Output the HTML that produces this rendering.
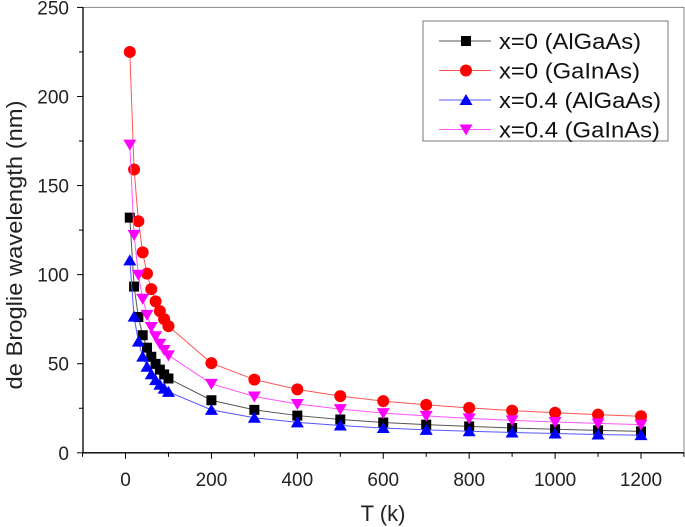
<!DOCTYPE html>
<html><head><meta charset="utf-8"><style>
body{margin:0;background:#fff}
svg{display:block;font-family:"Liberation Sans",sans-serif}
</style></head><body>
<svg id="chart" width="685" height="527"></svg>
<script>
const temps=[10,20,30,40,50,60,70,80,90,100,200,300,400,500,600,700,800,900,1000,1100,1200];
const gainas0=[225,159,130,112.5,100.6,91.9,85,79.5,75,71.1,50.3,41.1,35.6,31.8,29,26.9,25.2,23.7,22.5,21.4,20.5];
const algaas0=[132,93.3,76.2,66,59,53.9,49.9,46.7,44,41.7,29.5,24.1,20.9,18.7,17,15.8,14.8,13.9,13.2,12.6,12.0];
const algaas04=[108,76.4,62.4,54,48.3,44.1,40.8,38.2,36,34.2,24.1,19.7,17.1,15.3,13.9,12.9,12.1,11.4,10.8,10.3,9.9];
const gainas04=[173,122.3,99.9,86.5,77.4,70.6,65.4,61.2,57.7,54.7,38.7,31.6,27.4,24.5,22.3,20.7,19.3,18.2,17.3,16.5,15.8];
const xTicks=[0,200,400,600,800,1000,1200];
const yTicks=[0,50,100,150,200,250];
const seriesNames=["x=0 (AlGaAs)","x=0 (GaInAs)","x=0.4 (AlGaAs)","x=0.4 (GaInAs)"];

const svg=document.getElementById('chart');
const NS='http://www.w3.org/2000/svg';
const L=83,R=684,T=7.4,B=452.8;
const X=v=>125.5+(v/1200)*(641-125.5);
const Y=v=>B-(v/250)*(B-T);
function el(tag,attrs,parent){const e=document.createElementNS(NS,tag);for(const k in attrs)e.setAttribute(k,attrs[k]);(parent||svg).appendChild(e);return e;}

const frame=el('rect',{x:L,y:T,width:R-L,height:B-T,fill:'none',stroke:'#888','stroke-width':1});


const xAxis=el('line',{x1:L,y1:B,x2:R,y2:B,stroke:'#000','stroke-width':1.3});


const yAxis=el('line',{x1:L,y1:T,x2:L,y2:B,stroke:'#000','stroke-width':1.3});



for(let v=-100;v<=1300;v+=100){const x=X(v);if(x<L-0.5||x>R)continue;const major=xTicks.includes(v);
 el('line',{x1:x,y1:B,x2:x,y2:B+(major?6:4),stroke:'#000'});}
xTicks.forEach(v=>{const t=el('text',{x:X(v),y:B+33,'text-anchor':'middle','font-size':19,fill:'#222'});t.textContent=v;
 
 });
for(let v=0;v<=250;v+=25){const major=yTicks.includes(v);el('line',{x1:L,y1:Y(v),x2:L-(major?6:4),y2:Y(v),stroke:'#000'});}
yTicks.forEach(v=>{const t=el('text',{x:L-14,y:Y(v)+7,'text-anchor':'end','font-size':19,fill:'#222'});t.textContent=v;
 
 });

const xt=el('text',{x:383,y:521,'text-anchor':'middle','font-size':22,fill:'#222'});xt.textContent='T (k)';


const yt=el('text',{x:0,y:0,'text-anchor':'middle','font-size':22,fill:'#222',textLength:289,lengthAdjust:'spacingAndGlyphs',transform:'translate(22,245) rotate(-90)'});yt.textContent='de Broglie wavelength (nm)';



function marker(g,shape,x,y,c){
 if(shape==='sq')el('rect',{x:x-5,y:y-5,width:10,height:10,fill:c},g);
 else if(shape==='ci')el('circle',{cx:x,cy:y,r:6,fill:c},g);
 else if(shape==='up')el('polygon',{points:`${x},${y-6} ${x-6.5},${y+5} ${x+6.5},${y+5}`,fill:c},g);
 else el('polygon',{points:`${x},${y+6} ${x-6.5},${y-5} ${x+6.5},${y-5}`,fill:c},g);
}
const defs=[[algaas0,'#000','#555','sq'],[gainas0,'#f00','#f55','ci'],[algaas04,'#00f','#55f','up'],[gainas04,'#f0f','#f5f','dn']];
const names=['series-x0-algaas','series-x0-gainas','series-x04-algaas','series-x04-gainas'];
defs.forEach((d,i)=>{
 const g=el('g',{});
 
 
 el('polyline',{points:temps.map((t,j)=>X(t)+','+Y(d[0][j])).join(' '),fill:'none',stroke:d[2],'stroke-width':1},g);
 temps.forEach((t,j)=>marker(g,d[3],X(t),Y(d[0][j]),d[1]));
});

const lg=el('g',{});


el('rect',{x:423,y:21,width:245,height:120,fill:'#fff',stroke:'#777'},lg);
const legW=[142,141,162,161];
defs.forEach((d,i)=>{
 const y=41+i*29.5;
 const row=el('g',{},lg);
 
 
 el('line',{x1:439,y1:y,x2:491,y2:y,stroke:d[2],'stroke-width':1},row);
 marker(row,d[3],466,y,d[1]);
 const t=el('text',{x:499,y:y+8,'font-size':22,fill:'#111',textLength:legW[i],lengthAdjust:'spacingAndGlyphs'},row);t.textContent=seriesNames[i];
});
</script>
</body></html>
